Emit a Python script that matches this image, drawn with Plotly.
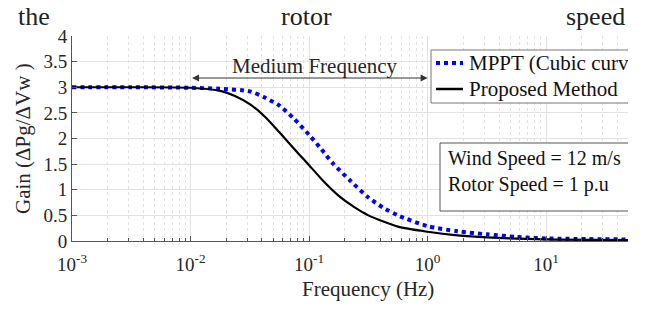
import plotly.graph_objects as go

# ---- data ----
freq_mppt = [0.001, 0.00316, 0.01, 0.0178, 0.0316, 0.0422, 0.0562, 0.075, 0.1, 0.126, 0.158,
             0.224, 0.316, 0.422, 0.562, 1.0, 1.78, 3.16, 5.62, 10.0, 49.0]
gain_mppt = [3.0, 3.0, 2.99, 2.97, 2.92, 2.8, 2.64, 2.38, 2.07, 1.8, 1.52,
             1.17, 0.85, 0.65, 0.5, 0.29, 0.19, 0.13, 0.08, 0.05, 0.03]

freq_prop = [0.001, 0.00316, 0.01, 0.0178, 0.0237, 0.0316, 0.0422, 0.0562, 0.0832, 0.1, 0.133,
             0.178, 0.237, 0.316, 0.562, 1.0, 1.78, 3.16, 10.0, 49.0]
gain_prop = [3.0, 3.0, 2.99, 2.93, 2.83, 2.67, 2.43, 2.12, 1.68, 1.48, 1.16,
             0.88, 0.67, 0.5, 0.28, 0.18, 0.11, 0.07, 0.03, 0.02]

x_tickvals = [0.001, 0.01, 0.1, 1, 10]
x_ticktext = ["10<sup>-3</sup>", "10<sup>-2</sup>", "10<sup>-1</sup>", "10<sup>0</sup>", "10<sup>1</sup>"]
y_tickvals = [0, 0.5, 1, 1.5, 2, 2.5, 3, 3.5, 4]
y_ticktext = ["0", "0.5", "1", "1.5", "2", "2.5", "3", "3.5", "4"]

series_names = ["MPPT (Cubic curve)", "Proposed Method"]
series_colors = ["#0000ff", "#000000"]
info_lines = ["Wind Speed = 12 m/s", "Rotor Speed = 1 p.u"]
x_title = "Frequency (Hz)"
y_title = "Gain (ΔPg/ΔVw )"
band_label = "Medium Frequency"

FONT = "Liberation Serif, Times New Roman, serif"
W, H = 654, 311
L, R, T, B = 72, 26, 36, 70
PW, PH = W - L - R, H - T - B

def px(p):  # figure pixel x -> paper x
    return (p - L) / PW

def py(p):  # figure pixel y (from top) -> paper y
    return (H - B - p) / PH

fig = go.Figure()
fig.add_trace(go.Scatter(x=freq_mppt, y=gain_mppt, mode="lines", name=series_names[0], showlegend=False,
                         line=dict(color=series_colors[0], width=4, dash="dot", shape="spline", smoothing=0.7)))
fig.add_trace(go.Scatter(x=freq_prop, y=gain_prop, mode="lines", name=series_names[1], showlegend=False,
                         line=dict(color=series_colors[1], width=2.2, shape="spline", smoothing=0.7)))

grid = "#e2e2e2"
axcol = "#555555"
txtcol = "#262626"
fig.update_xaxes(type="log", range=[-3, 1.69], tickvals=x_tickvals, ticktext=x_ticktext, automargin=False,
                 ticks="inside", ticklen=5, tickcolor=axcol, showline=True, linecolor=axcol, linewidth=1,
                 showgrid=True, gridcolor=grid, gridwidth=1, zeroline=False, ticklabelstandoff=6,
                 minor=dict(ticks="inside", ticklen=3, tickcolor=axcol, showgrid=True,
                            gridcolor=grid, griddash="dot", dtick="D1"),
                 tickfont=dict(family=FONT, size=19, color=txtcol))
fig.update_yaxes(range=[0, 4], tickvals=y_tickvals, ticktext=y_ticktext, automargin=False,
                 ticks="inside", ticklen=5, tickcolor=axcol, showline=True, linecolor=axcol, linewidth=1,
                 showgrid=True, gridcolor=grid, gridwidth=1, zeroline=False,
                 tickfont=dict(family=FONT, size=19, color=txtcol))

def note(x, y, text, size=21, xanchor="center", yanchor="middle", color=txtcol, **kw):
    fig.add_annotation(x=px(x), y=py(y), xref="paper", yref="paper", text=text, showarrow=False,
                       xanchor=xanchor, yanchor=yanchor, font=dict(family=FONT, size=size, color=color), **kw)

# axis titles
note(368, 289, x_title)
note(23, 139, y_title, textangle=-90)

# Medium frequency double arrow
fig.add_annotation(x=0, y=3.18, ax=-2, ay=3.18, xref="x", yref="y", axref="x", ayref="y",
                   text="", showarrow=True, arrowside="end+start", arrowhead=2, arrowsize=1.4,
                   arrowwidth=1, arrowcolor="#333333")
note(315, 66, band_label)

# legend (box + samples + labels)
fig.add_shape(type="rect", xref="paper", yref="paper", x0=px(431), x1=px(720), y0=py(103), y1=py(50),
              line=dict(color="#777777", width=1), fillcolor="white", layer="above")
leg_y = [63, 89]
for i in range(2):
    fig.add_shape(type="line", xref="paper", yref="paper", x0=px(436), x1=px(463), y0=py(leg_y[i]), y1=py(leg_y[i]),
                  line=dict(color=series_colors[i], width=4 if i == 0 else 2.5, dash="dot" if i == 0 else "solid"),
                  layer="above")
    note(467, leg_y[i], series_names[i], xanchor="left", color="#111111")

# info box
fig.add_shape(type="rect", xref="paper", yref="paper", x0=px(440), x1=px(720), y0=py(211), y1=py(143),
              line=dict(color="#555555", width=1), fillcolor="white", layer="above")
for i, yy in enumerate([158, 184]):
    note(446, yy, info_lines[i], size=20, xanchor="left", color="#111111")

# surrounding document text
for txt, xp, anc in [("the", 16, "left"), ("rotor", 306, "center"), ("speed", 627, "right")]:
    note(xp, 17, txt, size=26, xanchor=anc, color="#222222")

# crop edge of the original figure (white band on the right)
fig.add_annotation(x=px(628), y=py(0), xref="paper", yref="paper", xanchor="left", yanchor="top",
                   text=" ", showarrow=False, width=30, height=H, bgcolor="white", borderpad=0, borderwidth=0)

fig.update_layout(width=W, height=H, margin=dict(l=L, r=R, t=T, b=B, pad=0),
                  paper_bgcolor="white", plot_bgcolor="white", showlegend=False,
                  font=dict(family=FONT))

fig.write_html("out.html", config={"displayModeBar": False},
               post_script="document.body.style.margin='0px';document.body.style.padding='0px';")
